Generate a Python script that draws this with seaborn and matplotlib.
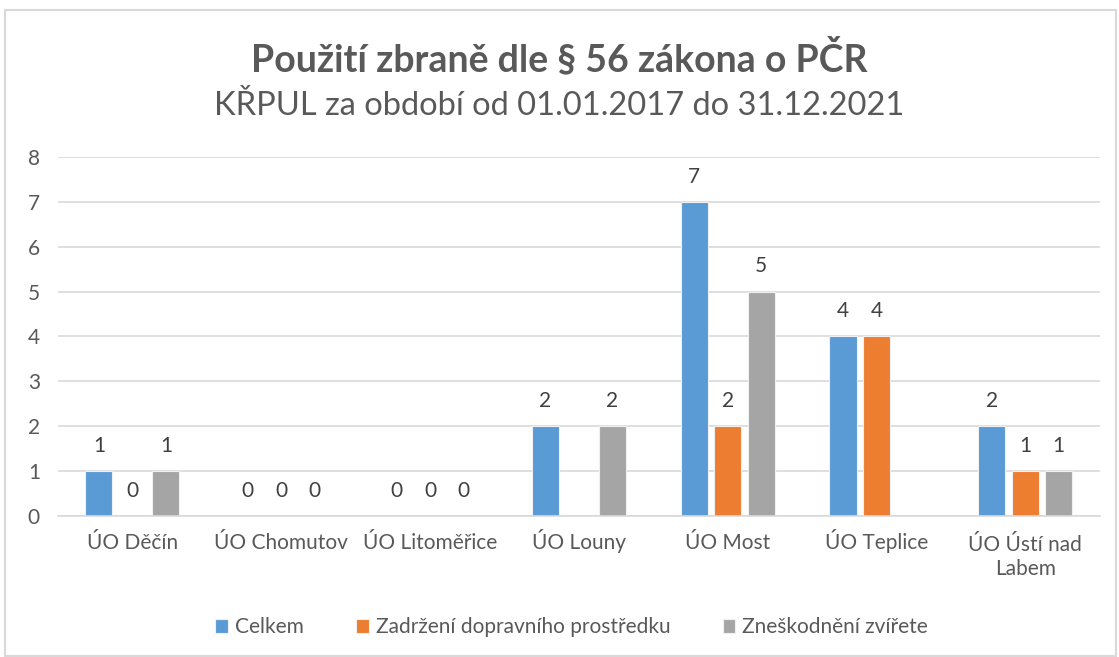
import numpy as np
import pandas as pd
import matplotlib
matplotlib.use("Agg")
import matplotlib.pyplot as plt
import seaborn as sns
from matplotlib.patches import Rectangle
from matplotlib.transforms import ScaledTranslation

categories = ["ÚO Děčín", "ÚO Chomutov", "ÚO Litoměřice", "ÚO Louny", "ÚO Most", "ÚO Teplice", "ÚO Ústí nad\nLabem"]
series_names = ["Celkem", "Zadržení dopravního prostředku", "Zneškodnění zvířete"]
celkem = [1, 0, 0, 2, 7, 4, 2]
zadrzeni = [0, 0, 0, np.nan, 2, 4, 1]
zneskodneni = [1, 0, 0, 2, 5, np.nan, 1]
colors = ["#5B9BD5", "#ED7D31", "#A5A5A5"]

rows = []
for name, vals in zip(series_names, [celkem, zadrzeni, zneskodneni]):
    for c, v in zip(categories, vals):
        rows.append({"cat": c, "series": name, "val": v})
df = pd.DataFrame(rows).dropna()

sns.set_theme(style="white")
plt.rcParams["font.family"] = ["Lato", "DejaVu Sans"]

fig = plt.figure(figsize=(11.19, 6.57), dpi=100)
ax = fig.add_axes([0.0518, 0.2146, 0.931, 0.5466])

sns.barplot(data=df, x="cat", y="val", hue="series", order=categories,
            hue_order=series_names, palette=colors, width=0.675, gap=0.19,
            edgecolor="#f0f0f0", linewidth=0.8, ax=ax, saturation=1)

for cont in ax.containers:
    ax.bar_label(cont, fmt="%d", padding=11, fontsize=15, color="#404040")

ax.set_ylim(0, 8)
ax.set_yticks(range(0, 9))
ax.yaxis.grid(True, color="#d9d9d9", linewidth=1.2)
ax.set_axisbelow(True)
for s in ["top", "right", "left"]:
    ax.spines[s].set_visible(False)
ax.spines["bottom"].set_color("#d9d9d9")
ax.spines["bottom"].set_linewidth(1.2)
ax.set_xlabel("")
ax.set_ylabel("")
ax.set_xlim(-0.5, 6.5)
ax.set_xticks(range(len(categories)))
ax.set_xticklabels(categories)
ax.tick_params(axis="both", length=0, labelsize=15, labelcolor="#595959")
ax.tick_params(axis="x", pad=24)
ax.tick_params(axis="y", pad=13)
for lbl in ax.get_xticklabels():
    lbl.set_linespacing(1.25)
    lbl.set_verticalalignment("baseline")
    if "\n" in lbl.get_text():
        lbl.set_transform(lbl.get_transform() + ScaledTranslation(0, -18.7 / 72, fig.dpi_scale_trans))

leg = ax.legend(loc="center", bbox_to_anchor=(0.511, 0.045), bbox_transform=fig.transFigure,
                ncol=3, frameon=False, fontsize=15, handlelength=0.6, handleheight=0.6,
                columnspacing=2.5, handletextpad=0.35)
for t in leg.get_texts():
    t.set_color("#595959")

fig.text(0.5, 0.911, "Použití zbraně dle § 56 zákona o PČR", ha="center", va="center",
         fontsize=27, fontweight="bold", color="#595959")
fig.text(0.5, 0.838, "KŘPUL za období od 01.01.2017 do 31.12.2021", ha="center", va="center",
         fontsize=23.5, color="#595959")

fig.patches.append(Rectangle((5 / 1119, 1 / 657), 1111 / 1119, 646 / 657,
                             transform=fig.transFigure, fill=False,
                             edgecolor="#d9d9d9", linewidth=1.5))

fig.savefig("out.png", dpi=100, facecolor="white")
